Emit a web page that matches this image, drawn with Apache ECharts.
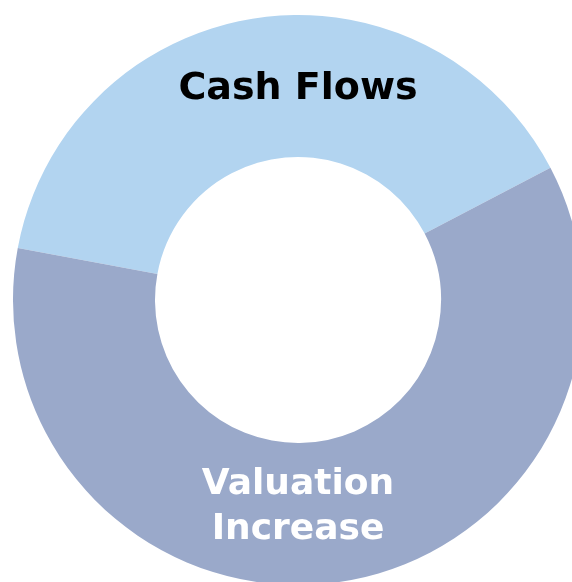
<!DOCTYPE html>
<html lang="en">
<head>
    <meta charset="UTF-8">
    <title>Cash Flows vs Valuation Increase</title>
    <script src="https://cdn.jsdelivr.net/npm/echarts@6/dist/echarts.min.js"></script>
    <style>
        html, body { margin: 0; padding: 0; background: #fff; }
        #main { width: 572px; height: 582px; }
    </style>
</head>
<body>
<div id="main"></div>
<script>
    // slice names and shares
    let names = ['Cash Flows', 'Valuation Increase'];
    let shares = [39.4, 60.6];
    let colors = ['#B2D4F0', '#9AA9CA'];

    let myChart = echarts.init(document.getElementById('main'));

    let fontFam = '"DejaVu Sans", "Open Sans", sans-serif';

    let option = {
        animation: false,
        series: [{
            type: 'pie',
            z: 1,
            center: [298, 300],
            radius: [143, 285],
            startAngle: 169.5,
            clockwise: true,
            label: { show: false },
            labelLine: { show: false },
            itemStyle: { borderWidth: 0 },
            emphasis: { disabled: true },
            data: names.map((n, i) => ({
                name: n,
                value: shares[i],
                itemStyle: { color: colors[i] }
            }))
        }],
        graphic: {
            elements: [
                {
                    type: 'text',
                    z: 100,
                    x: 298,
                    y: 89,
                    style: {
                        text: names[0],
                        fill: '#000',
                        align: 'center',
                        verticalAlign: 'middle',
                        font: 'bold 38px ' + fontFam
                    }
                },
                {
                    type: 'text',
                    z: 100,
                    x: 298,
                    y: 507,
                    style: {
                        text: 'Valuation\nIncrease',
                        fill: '#fff',
                        align: 'center',
                        verticalAlign: 'middle',
                        lineHeight: 45,
                        font: 'bold 36px ' + fontFam
                    }
                }
            ]
        }
    };

    myChart.setOption(option);
</script>
</body>
</html>
